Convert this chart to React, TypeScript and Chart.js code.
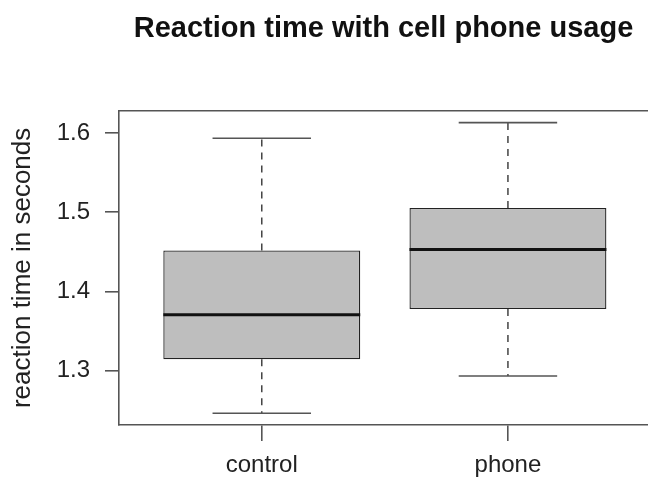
import { useEffect, useRef } from "react";
import { Chart, registerables } from "chart.js";

Chart.register(...registerables);

const categories = ["control", "phone"];
const positions = [1, 2];
const whiskerLow = [1.2464, 1.2933];
const q1 = [1.3145, 1.3778];
const median = [1.3706, 1.453];
const q3 = [1.4517, 1.5053];
const whiskerHigh = [1.5933, 1.6131];
const yTicks = [1.3, 1.4, 1.5, 1.6];
const xTicks = [1, 2];

const FONT = "'Liberation Sans', Arial, Helvetica, sans-serif";
const LINE = "#555555";

const boxPlugin = {
  id: "rbox",
  beforeDatasetsDraw(chart: any) {
    const { ctx, chartArea } = chart;
    const x = chart.scales.x;
    const y = chart.scales.y;
    ctx.save();
    positions.forEach((p, i) => {
      const cx = x.getPixelForValue(p);
      const half = (x.getPixelForValue(p + 0.2) - x.getPixelForValue(p - 0.2)) / 2;
      ctx.strokeStyle = "#444444";
      ctx.lineWidth = 1.5;
      ctx.setLineDash([7, 6]);
      ctx.beginPath();
      ctx.moveTo(cx, y.getPixelForValue(q3[i]));
      ctx.lineTo(cx, y.getPixelForValue(whiskerHigh[i]));
      ctx.moveTo(cx, y.getPixelForValue(q1[i]));
      ctx.lineTo(cx, y.getPixelForValue(whiskerLow[i]));
      ctx.stroke();
      ctx.setLineDash([]);
      ctx.strokeStyle = LINE;
      ctx.lineWidth = 1.6;
      ctx.beginPath();
      ctx.moveTo(cx - half, y.getPixelForValue(whiskerHigh[i]));
      ctx.lineTo(cx + half, y.getPixelForValue(whiskerHigh[i]));
      ctx.moveTo(cx - half, y.getPixelForValue(whiskerLow[i]));
      ctx.lineTo(cx + half, y.getPixelForValue(whiskerLow[i]));
      ctx.stroke();
    });
    ctx.strokeStyle = LINE;
    ctx.lineWidth = 1.6;
    ctx.beginPath();
    ctx.moveTo(chartArea.left, chartArea.top);
    ctx.lineTo(chartArea.right, chartArea.top);
    ctx.stroke();
    ctx.restore();
  },
  afterDatasetsDraw(chart: any) {
    const { ctx } = chart;
    const x = chart.scales.x;
    const y = chart.scales.y;
    ctx.save();
    positions.forEach((p, i) => {
      const l = x.getPixelForValue(p - 0.4);
      const r = x.getPixelForValue(p + 0.4);
      const my = y.getPixelForValue(median[i]);
      ctx.strokeStyle = "#111111";
      ctx.lineWidth = 3.2;
      ctx.beginPath();
      ctx.moveTo(l, my);
      ctx.lineTo(r, my);
      ctx.stroke();
    });
    ctx.restore();
  },
};

export default function App() {
  const ref = useRef<HTMLCanvasElement | null>(null);
  useEffect(() => {
    if (!ref.current) return;
    const chart = new Chart(ref.current, {
      type: "bar",
      data: {
        datasets: [
          {
            label: "box",
            data: positions.map((p, i) => ({ x: p, y: [q1[i], q3[i]] })) as any,
            backgroundColor: "#bebebe",
            borderColor: "#222222",
            borderWidth: 1.3,
            borderSkipped: false,
            barPercentage: 0.8,
            categoryPercentage: 1,
          },
        ],
      },
      plugins: [boxPlugin],
      options: {
        animation: false,
        responsive: true,
        maintainAspectRatio: false,
        layout: { padding: 0 },
        plugins: {
          legend: { display: false },
          tooltip: { enabled: false },
          title: {
            display: true,
            text: "Reaction time with cell phone usage",
            fullSize: false,
            color: "#111111",
            font: { family: FONT, size: 29, weight: "bold" },
            padding: { top: 12, bottom: 64 },
          },
        },
        scales: {
          x: {
            type: "linear",
            offset: false,
            min: 0.42,
            max: 2.569,
            afterBuildTicks: (s: any) => {
              s.ticks = xTicks.map((v) => ({ value: v }));
            },
            afterFit: (s: any) => {
              s.height = 58;
            },
            ticks: {
              color: "#222222",
              font: { family: FONT, size: 24 },
              padding: 10,
              maxRotation: 0,
              autoSkip: false,
              callback: (v: any) => categories[positions.indexOf(Number(v))] ?? "",
            },
            grid: {
              display: true,
              offset: false,
              drawOnChartArea: false,
              drawTicks: true,
              tickLength: 16,
              color: LINE,
              lineWidth: 1.6,
            },
            border: { display: true, color: LINE, width: 1.6 },
          },
          y: {
            type: "linear",
            min: 1.2315,
            max: 1.628,
            afterBuildTicks: (s: any) => {
              s.ticks = yTicks.map((v) => ({ value: v }));
            },
            afterFit: (s: any) => {
              s.width = 119;
            },
            ticks: {
              color: "#222222",
              font: { family: FONT, size: 24 },
              padding: 15,
              callback: (v: any) => Number(v).toFixed(1),
            },
            grid: {
              display: true,
              drawOnChartArea: false,
              drawTicks: true,
              tickLength: 14,
              color: LINE,
              lineWidth: 1.6,
            },
            border: { display: true, color: LINE, width: 1.6 },
            title: {
              display: true,
              text: "reaction time in seconds",
              color: "#222222",
              font: { family: FONT, size: 26 },
              padding: { top: 7, bottom: 0 },
            },
          },
        },
      },
    });
    return () => chart.destroy();
  }, []);
  return (
    <div style={{ position: "fixed", left: 0, top: 0, width: 648, height: 483, background: "#fff" }}>
      <canvas ref={ref} />
    </div>
  );
}
